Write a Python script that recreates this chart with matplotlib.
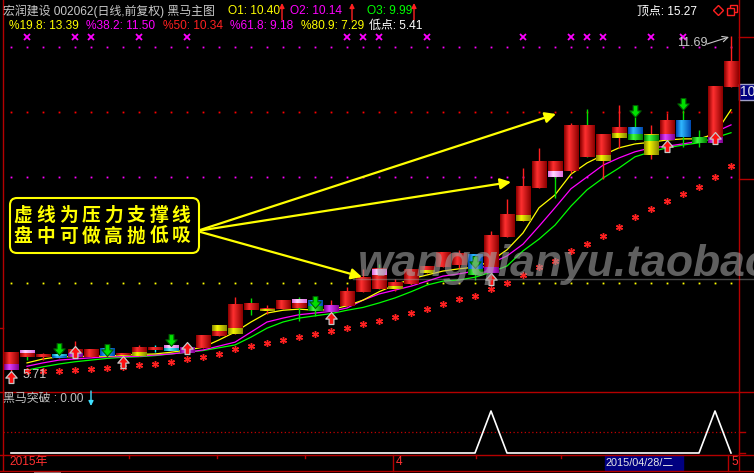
import matplotlib
matplotlib.use("Agg")
import matplotlib.pyplot as plt
import numpy as np
from matplotlib.colors import LinearSegmentedColormap
from matplotlib.path import Path
from matplotlib.patches import FancyBboxPatch, Rectangle
from matplotlib.transforms import offset_copy, blended_transform_factory

nan = float("nan")

# daily candles
opens = [5.73, 6.07, 5.97, 5.95, 5.97, 5.97, 5.98, 5.98, 5.98, 6.11,
         6.07, 6.04, 6.13, 6.34, 6.38, 6.91, 6.79, 6.82, 7.00, 6.98,
         6.77, 6.88, 7.13, 7.54, 7.18, 7.27, 7.47, 7.57, 7.61, 7.80,
         7.47, 8.11, 8.39, 8.98, 9.45, 9.29, 10.11, 9.47, 9.88, 10.07,
         9.57, 9.84, 10.18, 9.89, 9.79, 10.79]
closes = [6.04, 5.97, 6.00, 6.00, 6.11, 6.11, 6.11, 6.02, 6.13, 6.11,
          6.16, 6.14, 6.36, 6.52, 6.91, 6.80, 6.84, 6.98, 6.84, 6.79,
          6.89, 7.14, 7.39, 7.18, 7.29, 7.52, 7.59, 7.82, 7.82, 7.43,
          8.14, 8.52, 9.00, 9.45, 9.18, 10.11, 9.54, 9.95, 10.07, 9.84,
          9.93, 10.18, 9.89, 9.79, 10.80, 11.25]
highs = [6.04, 6.07, 6.04, 6.00, 6.25, 6.11, 6.11, 6.02, 6.18, 6.18,
         6.16, 6.14, 6.36, 6.52, 7.04, 7.02, 6.89, 6.98, 7.04, 6.98,
         6.98, 7.22, 7.54, 7.63, 7.36, 7.52, 7.59, 7.82, 7.88, 7.80,
         8.22, 8.79, 9.34, 9.70, 9.45, 10.14, 10.39, 9.95, 10.46, 10.25,
         10.11, 10.32, 10.38, 10.02, 10.80, 11.69]
lows = [5.71, 5.91, 5.91, 5.95, 5.97, 5.97, 5.98, 5.98, 5.98, 6.05,
        6.07, 6.04, 6.13, 6.34, 6.38, 6.72, 6.73, 6.82, 6.61, 6.70,
        6.77, 6.88, 7.13, 7.18, 7.14, 7.27, 7.47, 7.57, 7.55, 7.34,
        7.47, 8.11, 8.39, 8.98, 8.80, 9.25, 9.54, 9.14, 9.70, 9.84,
        9.50, 9.84, 9.72, 9.72, 9.79, 10.79]

ma_yellow = [nan, 5.86, 5.93, 5.97, 5.97, 5.98, 5.98, 6.00, 6.01, 6.02,
             6.05, 6.09, 6.14, 6.27, 6.41, 6.59, 6.75, 6.80, 6.82, 6.80,
             6.81, 6.88, 6.98, 7.13, 7.25, 7.36, 7.43, 7.50, 7.54, 7.57,
             7.68, 7.88, 8.18, 8.63, 8.86, 9.23, 9.43, 9.57, 9.70, 9.77,
             9.80, 9.84, 9.86, 9.86, 9.95, 10.38]
ma_magenta = [nan, 5.80, 5.86, 5.91, 5.93, 5.95, 5.97, 5.97, 5.98, 6.00,
              6.02, 6.05, 6.09, 6.16, 6.23, 6.41, 6.59, 6.66, 6.72, 6.75,
              6.78, 6.84, 6.98, 7.09, 7.16, 7.23, 7.32, 7.41, 7.45, 7.50,
              7.64, 7.77, 7.98, 8.30, 8.63, 8.97, 9.18, 9.39, 9.52, 9.63,
              9.70, 9.73, 9.77, 9.82, 9.98, 10.11]
ma_green = [nan, 5.73, 5.79, 5.84, 5.88, 5.91, 5.94, 5.96, 5.97, 5.99,
            6.02, 6.05, 6.08, 6.13, 6.18, 6.32, 6.48, 6.59, 6.66, 6.70,
            6.74, 6.80, 6.85, 6.93, 7.02, 7.13, 7.25, 7.32, 7.34, 7.39,
            7.48, 7.59, 7.86, 8.07, 8.32, 8.66, 8.95, 9.16, 9.34, 9.54,
            9.63, 9.70, 9.75, 9.79, 9.88, 9.97]
support = [nan, 5.72, 5.72, 5.72, 5.73, 5.75, 5.77, 5.79, 5.82, 5.84,
           5.88, 5.93, 5.97, 6.02, 6.11, 6.16, 6.21, 6.27, 6.32, 6.38,
           6.43, 6.48, 6.55, 6.61, 6.68, 6.75, 6.82, 6.91, 7.00, 7.05,
           7.18, 7.29, 7.43, 7.57, 7.68, 7.86, 7.98, 8.13, 8.29, 8.47,
           8.61, 8.75, 8.88, 9.00, 9.18, 9.38]

# fibonacci levels
levels = [13.39, 11.50, 10.34, 9.18, 7.29]
level_names = ["%19.8", "%38.2", "%50", "%61.8", "%80.9"]

# signals (candle indices)
cross_marks = [1, 4, 5, 8, 11, 21, 22, 23, 26, 32, 35, 36, 37, 40, 42]
down_above = [3, 10, 39, 42]
down_over = [6, 19, 29]
up_below = [0, 7, 20, 30, 41]
up_over = [4, 11, 44]

breakout = [0, 0, 0, 0, 0, 0, 0, 0, 0, 0, 0, 0, 0, 0, 0, 0, 0, 0, 0, 0,
            0, 0, 0, 0, 0, 0, 0, 0, 0, 0, 1, 0, 0, 0, 0, 0, 0, 0, 0, 0,
            0, 0, 0, 0, 1, 0]

# body paint of the indicator
body_tone = ["r", "r", "r", "b", "r", "r", "b", "r", "r", "r",
             "c", "m", "r", "y", "r", "r", "r", "r", "r", "b",
             "m", "r", "r", "r", "r", "r", "r", "r", "r", "b",
             "r", "r", "r", "r", "r", "r", "r", "r", "r", "b",
             "y", "r", "b", "g", "r", "r"]
top_tone = {1: "p", 3: "c", 10: "p", 18: "p", 23: "p", 40: "g"}
bottom_tone = {0: "m", 4: "m", 7: "y", 8: "y", 13: "r", 14: "y", 16: "y",
               19: "g", 24: "y", 26: "y", 29: "g", 30: "m", 32: "y",
               34: "p", 37: "y", 38: "y", 39: "g", 41: "m", 44: "m"}

tones = {
    "r": ("#8c0000", "#ff3030"),
    "y": ("#8a8a00", "#f4f400"),
    "b": ("#0048b0", "#30b8ff"),
    "c": ("#0090b0", "#60f0ff"),
    "g": ("#008000", "#40ff40"),
    "m": ("#800090", "#e040ff"),
    "p": ("#e070e0", "#ffd8ff"),
}
cmaps = {k: LinearSegmentedColormap.from_list(k, [(0, d), (0.35, b), (1, d)])
         for k, (d, b) in tones.items()}

W, H = 754, 473
fam = ["Liberation Sans", "Noto Sans CJK SC"]

fig = plt.figure(figsize=(W / 100, H / 100), dpi=100, facecolor="black")


def px_rect(x0, y0, x1, y1):
    return [x0 / W, 1 - y1 / H, (x1 - x0) / W, (y1 - y0) / H]


ax = fig.add_axes(px_rect(3, 0, 738, 391), facecolor="black")
axl = fig.add_axes(px_rect(3, 391, 738, 454), facecolor="black", sharex=ax)
for a in (ax, axl):
    for s in a.spines.values():
        s.set_visible(False)
ax.set_xticks([])
ax.set_yticks([])
axl.set_yticks([])

n = len(opens)
idx = np.arange(n)

# dotted fibonacci lines
lvl_cols = ["#ffff00", "#ff00ff", "#ff0000", "#ff00ff", "#ffff00"]
for lv, c in zip(levels, lvl_cols):
    ax.plot(idx, np.full(n, lv), ls="none", marker="s", ms=1.3, mew=0,
            color=c, zorder=1)

ax.plot(idx, ma_green, color="#00ff00", lw=0.9, zorder=2)
ax.plot(idx, ma_magenta, color="#ff00ff", lw=0.9, zorder=2)
ax.plot(idx, ma_yellow, color="#ffff00", lw=0.9, zorder=2)

# wicks
wick_cols = []
for o, c in zip(opens, closes):
    if c > o:
        wick_cols.append("#ff2020")
    elif c < o:
        wick_cols.append("#00e000")
    else:
        wick_cols.append("#00ffff")
ax.vlines(idx, lows, highs, colors=wick_cols, lw=1.0, zorder=2.5)

grad = np.linspace(0, 1, 32)[None, :]
hw = 0.44
for i in range(n):
    lo = min(opens[i], closes[i])
    hi = max(opens[i], closes[i])
    if hi - lo < 0.035:
        mid = (hi + lo) / 2
        lo, hi = mid - 0.018, mid + 0.018
    ax.imshow(grad, cmap=cmaps[body_tone[i]], extent=(i - hw, i + hw, lo, hi),
              aspect="auto", interpolation="bilinear", zorder=3)
    sh = min(0.4 * (hi - lo), 0.107)
    if i in top_tone:
        ax.imshow(grad, cmap=cmaps[top_tone[i]],
                  extent=(i - hw, i + hw, hi - sh, hi),
                  aspect="auto", interpolation="bilinear", zorder=3.1)
    if i in bottom_tone:
        ax.imshow(grad, cmap=cmaps[bottom_tone[i]],
                  extent=(i - hw, i + hw, lo, lo + sh),
                  aspect="auto", interpolation="bilinear", zorder=3.1)

ax.plot(idx, support, ls="none", marker=(6, 2, 0), ms=5, mew=1.0,
        color="#ff2020", zorder=4)

trans_top = blended_transform_factory(ax.transData, ax.transAxes)
ax.plot(cross_marks, [1 - 37 / 391] * len(cross_marks), ls="none",
        marker="x", ms=4.2, mew=1.3, color="#ff00ff", transform=trans_top,
        zorder=4)

# arrow markers
dverts = [(-0.4, 1), (0.4, 1), (0.4, 0.1), (0.95, 0.1), (0, -1),
          (-0.95, 0.1), (-0.4, 0.1), (-0.4, 1)]
down_arrow = Path(dverts, closed=True)
up_arrow = Path([(x, -y) for x, y in dverts], closed=True)


def shifted(dy):
    return offset_copy(ax.transData, fig=fig, x=0, y=dy, units="dots")


green_kw = dict(ls="none", ms=8.6, mfc="#00e000", mec="#006000", mew=0.8,
                zorder=5, marker=down_arrow)
red_kw = dict(ls="none", ms=8.6, mfc="#ff1010", mec="#c8c8c8", mew=0.9,
              zorder=5, marker=up_arrow)

ax.plot(down_above, [highs[i] for i in down_above], transform=shifted(6),
        **green_kw)
ax.plot(down_over, [(opens[i] + closes[i]) / 2 for i in down_over],
        transform=shifted(3), **green_kw)
ax.plot(up_below, [lows[i] for i in up_below], transform=shifted(-6),
        **red_kw)
ax.plot(up_over, [lows[i] for i in up_over], transform=shifted(5),
        **red_kw)

ax.set_xlim(-0.5, -0.5 + 735 / 16)
ax.set_ylim(5.358, 12.34)

# lower panel
axl.plot(idx, breakout, color="white", lw=1.2, zorder=3)
axl.axhline(0.5, color="#c00000", ls=(0, (1, 2)), lw=0.9, zorder=2)
axl.set_ylim(-0.024, 1.476)

# overlay in pixel coordinates
ov = fig.add_axes([0, 0, 1, 1], facecolor="none")
ov.set_zorder(10)
ov.set_xlim(0, W)
ov.set_ylim(H, 0)
ov.axis("off")

red_line = "#b40000"
ov.plot([2.5, 2.5], [0, 470], color=red_line, lw=1)
ov.plot([738.5, 738.5], [0, 470], color=red_line, lw=1)
for yy in (391.5, 454.5, 470.5):
    ov.plot([0, W], [yy, yy], color=red_line, lw=1)
for yy in (37, 179):
    ov.plot([738.5, W], [yy, yy], color=red_line, lw=1)
for yy in (432, 453):
    ov.plot([738.5, 745], [yy, yy], color=red_line, lw=1)
ov.plot([0, 2.5], [328, 328], color=red_line, lw=1)


def put(x, y, s, color, size=8.6, **kw):
    ov.text(x, y, s, color=color, fontsize=size, family=fam, ha="left",
            va="center", **kw)


def tiny_arrow(x, y0, y1, color):
    ov.annotate("", xy=(x, y1), xytext=(x, y0),
                arrowprops=dict(arrowstyle="-|>", color=color, lw=1,
                                mutation_scale=7, shrinkA=0, shrinkB=0))


put(3, 11.5, "宏润建设 002062(日线,前复权) 黑马主图", "#c8c8c8")
put(228, 11.5, "O1: 10.40", "#ffff00")
tiny_arrow(282, 20, 3, "#ff2020")
put(290, 11.5, "O2: 10.14", "#ff00ff")
tiny_arrow(352, 20, 3, "#ff2020")
put(367, 11.5, "O3: 9.99", "#00ff00")
tiny_arrow(414, 20, 3, "#ff2020")
put(637, 11.5, "顶点: 15.27", "#ffffff")

lvl_text_cols = ["#ffff00", "#ff00ff", "#ff2020", "#ff00ff", "#ffff00"]
lvl_x = [9, 86, 163, 230, 301]
for name, lv, c, x in zip(level_names, levels, lvl_text_cols, lvl_x):
    put(x, 26, f"{name}: {lv:.2f}", c)
put(369, 26, "低点: 5.41", "#ffffff")

# window icons
ov.plot([718], [10], marker="D", ms=5.5, mfc="none", mec="#ff2020", mew=1)
ov.add_patch(Rectangle((730, 5), 7, 7, fc="black", ec="#ff2020", lw=1))
ov.add_patch(Rectangle((727, 8), 7, 7, fc="black", ec="#ff2020", lw=1))

# high / low labels
put(677, 43, "11.69", "#c8c8c8", size=9)
ov.annotate("", xy=(729, 37), xytext=(707, 44),
            arrowprops=dict(arrowstyle="->", color="#c8c8c8", lw=0.8,
                            shrinkA=0, shrinkB=0))
put(23, 375, "5.71", "#c8c8c8", size=9)

# price box on the right axis
ov.add_patch(Rectangle((739, 84), 16, 16, fc="#000080", ec="#a0a0c8", lw=1))
put(740, 92, "10", "#e8e8e8", size=10)

# watermark
ov.text(358, 276, "wangqianyu.taobao", fontsize=32, family="Liberation Sans",
        weight="bold", style="italic", color="#a0a0a0", alpha=0.6,
        va="baseline", ha="left")
ov.plot([353, W], [279, 279], color="#a0a0a0", alpha=0.45, lw=1)

# call-out
for tx, ty in [(556, 114), (511, 182), (362, 277)]:
    ov.annotate("", xy=(tx, ty), xytext=(197, 231),
                arrowprops=dict(arrowstyle="-|>", color="#ffff00", lw=1.6,
                                mutation_scale=16, shrinkA=0, shrinkB=0))
ov.add_patch(FancyBboxPatch((10, 198), 189, 55,
                            boxstyle="round,pad=0,rounding_size=7",
                            fc="black", ec="#ffff00", lw=1.5, zorder=3))
for row, (line, yy) in enumerate([("虚线为压力支撑线", 215),
                                  ("盘中可做高抛低吸", 236)]):
    for k, ch in enumerate(line):
        ov.text(23 + 22.6 * k, yy, ch, color="#ffff00", fontsize=13.5,
                family="Noto Sans CJK SC", weight="bold", ha="center",
                va="center", zorder=4)

# lower panel label
put(3, 399, "黑马突破 : 0.00", "#c0c0c0")
tiny_arrow(91, 391, 406, "#40e0ff")

# date strip
put(9, 462, "2015年", "#ff3030")
for x in (129, 217, 305, 476, 561):
    ov.plot([x, x], [454.5, 458], color=red_line, lw=1)
for x in (393, 728):
    ov.plot([x, x], [454.5, 470.5], color=red_line, lw=1)
put(396, 462, "4", "#ff3030")
put(731, 462, "5", "#ff3030")
ov.add_patch(Rectangle((605, 455), 78, 15, fc="#000080", ec="#000080"))
put(606, 462.5, "2015/04/28/二", "#e8e8e8", size=7.8)
ov.add_patch(Rectangle((34, 471), 27, 2, fc="#808080", ec="none"))

fig.savefig("out.png", dpi=100, facecolor="black")
